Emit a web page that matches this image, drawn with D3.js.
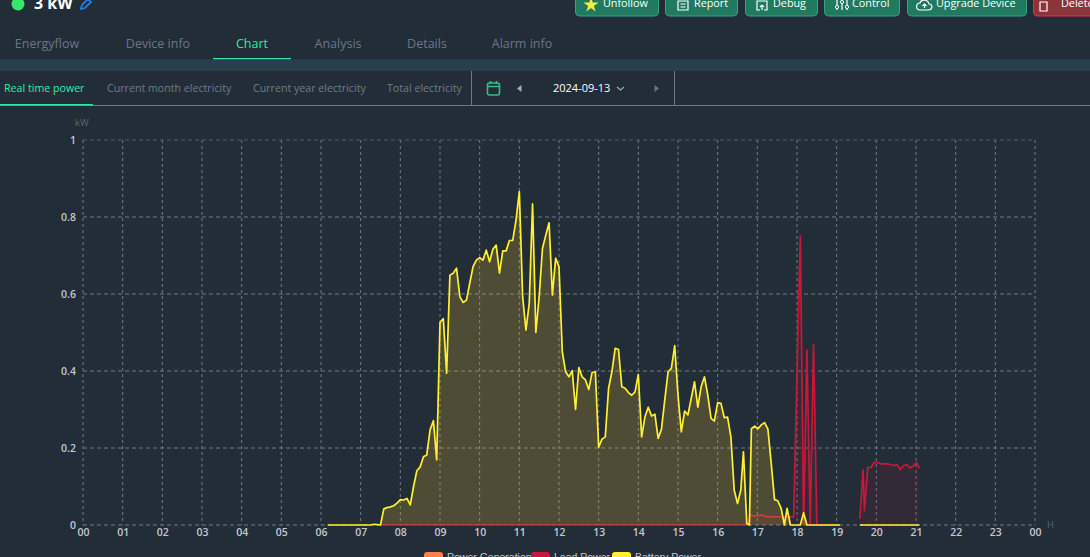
<!DOCTYPE html>
<html>
<head>
<meta charset="utf-8">
<script src="https://cdn.jsdelivr.net/npm/d3@7"></script>
<style>
  html, body { margin: 0; padding: 0; background: #232d38; overflow: hidden; }
  text { font-family: "Open Sans", "Noto Sans", sans-serif; }
</style>
</head>
<body>
<div id="chart-container"></div>
<script>
const hourLabels = ["00","01","02","03","04","05","06","07","08","09","10","11","12","13","14","15","16","17","18","19","20","21","22","23","00"];
const yTicks = [0, 0.2, 0.4, 0.6, 0.8, 1];
const legendLabels = ["Power Generation", "Load Power", "Battery Power"];
const pageTabs = ["Energyflow", "Device info", "Chart", "Analysis", "Details", "Alarm info"];
const chartTabs = ["Real time power", "Current month electricity", "Current year electricity", "Total electricity"];
const buttonLabels = ["Unfollow", "Report", "Debug", "Control", "Upgrade Device", "Delete"];

const batteryTimes = ["06:10","07:15","07:20","07:25","07:30","07:35","07:40","07:45","07:50","07:55",
  "08:00","08:05","08:10","08:15","08:20","08:25","08:30","08:35","08:40","08:45","08:50","08:55",
  "09:00","09:05","09:10","09:15","09:20","09:25","09:30","09:35","09:40","09:45","09:50","09:55",
  "10:00","10:05","10:10","10:15","10:20","10:25","10:30","10:35","10:40","10:45","10:50","10:55",
  "11:00","11:05","11:10","11:15","11:20","11:25","11:30","11:35","11:40","11:45","11:50","11:55",
  "12:00","12:05","12:10","12:15","12:20","12:25","12:30","12:35","12:40","12:45","12:50","12:55",
  "13:00","13:05","13:10","13:15","13:20","13:25","13:30","13:35","13:40","13:45","13:50","13:55",
  "14:00","14:05","14:10","14:15","14:20","14:25","14:30","14:35","14:40","14:45","14:50","14:55",
  "15:00","15:05","15:10","15:15","15:20","15:25","15:30","15:35","15:40","15:45","15:50","15:55",
  "16:00","16:05","16:10","16:15","16:20","16:25","16:30","16:35","16:39","16:44","16:48",
  "16:51","16:56","17:01","17:06","17:11","17:16","17:21","17:26","17:31","17:36","17:41","17:45","17:50",
  "18:05","18:10","18:15","19:05","19:20","19:35","21:05"];
const batteryPower = [0,0,0.002,0.001,0,0.042,0.045,0.047,0.05,0.057,
  0.066,0.065,0.069,0.052,0.1,0.141,0.151,0.177,0.182,0.247,0.271,0.169,
  0.526,0.536,0.394,0.649,0.654,0.667,0.593,0.578,0.584,0.628,0.671,0.688,
  0.694,0.688,0.714,0.684,0.716,0.727,0.654,0.712,0.712,0.739,0.739,0.792,
  0.866,0.593,0.506,0.576,0.834,0.5,0.593,0.718,0.753,0.785,0.597,0.693,
  0.671,0.45,0.398,0.385,0.401,0.3,0.409,0.385,0.377,0.352,0.396,0.398,
  0.202,0.223,0.229,0.355,0.398,0.459,0.456,0.359,0.355,0.344,0.337,0.346,
  0.391,0.229,0.281,0.306,0.283,0.288,0.225,0.249,0.325,0.398,0.407,0.466,
  0.338,0.242,0.296,0.286,0.329,0.372,0.306,0.359,0.385,0.338,0.277,0.27,
  0.318,0.316,0.279,0.28,0.229,0.091,0.056,0.091,0.19,0.004,0,
  0.25,0.257,0.25,0.26,0.266,0.249,0.16,0.066,0.063,0.043,0,0.043,0,
  0,0.032,0,0,null,0,0];

const loadTimes = ["07:30","16:45","16:49","16:56","17:06","17:16","17:26","17:55","18:00","18:05","18:10",
  "18:15","18:20","18:25","18:30","19:05","19:20","19:35","19:40","19:42","19:47","19:52","19:57","20:02","20:07",
  "20:12","20:17","20:22","20:27","20:31","20:36","20:41","20:46","20:51","20:56","21:01","21:05"];
const loadPower = [0,0,0.026,0.023,0.026,0.021,0.021,0.021,0.39,0.751,0,
  0.455,0,0.468,0,0,null,0.016,0.143,0.037,0.149,0.15,0.163,0.162,0.159,
  0.159,0.159,0.157,0.154,0.157,0.144,0.154,0.157,0.148,0.154,0.162,0.148];

const W = 1090, H = 557;
const margin = { top: 140, right: 55, bottom: 32, left: 83 };
const width = W - margin.left - margin.right;
const height = H - margin.top - margin.bottom;

const svg = d3.select("#chart-container").append("svg")
  .attr("width", W).attr("height", H).style("display", "block");

// ---- page chrome
svg.append("circle").attr("cx", 18).attr("cy", 4).attr("r", 6.5).attr("fill", "#37e86f");
svg.append("text").attr("x", 34).attr("y", 9).attr("fill", "#fff")
  .style("font-size", "16px").style("font-weight", "700").text("3 kW");
svg.append("path").attr("d", "M81 9 L82 5 L88 -1 L91 2 L85 8 Z")
  .attr("fill", "none").attr("stroke", "#1f7cf0").attr("stroke-width", 1.8);

const buttonX = [575, 665, 745, 824, 907, 1033];
const buttonW = [83, 72, 72, 75, 119, 70];
const buttonTextX = [603, 694, 773, 852, 936, 1061];
const button = svg.selectAll(".btn").data(buttonLabels).join("g").attr("class", "btn");
button.append("rect")
  .attr("x", (d, i) => buttonX[i] + .5).attr("y", -10)
  .attr("width", (d, i) => buttonW[i]).attr("height", 26).attr("rx", 4)
  .attr("fill", (d, i) => i == 5 ? "#8c343c" : "#1f7a5f")
  .attr("stroke", (d, i) => i == 5 ? "#e2303f" : "#3aa27e");
button.append("text")
  .attr("x", (d, i) => buttonTextX[i]).attr("y", 7)
  .attr("fill", "#fff").style("font-size", "10.8px").text(d => d);
// button icons
const icon = d => svg.append("path").attr("d", d).attr("fill", "none").attr("stroke", "#fff").attr("stroke-width", 1.2);
svg.append("path").attr("fill", "#f7ec3a")
  .attr("d", d3.symbol(d3.symbolStar, 70)()).attr("transform", "translate(591,5)");
icon("M678 1 H688 V10 H678 Z M680.5 4 H685.5 M680.5 7 H685.5");
icon("M757 2 V1 H767 V10 H764 M757 2 V10 H760 M762 10 V5 M760 7 L762 5 L764 7");
icon("M837 -1 V10 M842 -1 V10 M847 -1 V10");
svg.selectAll(".knob").data([[837, 7], [842, 2], [847, 7]]).join("circle").attr("class", "knob")
  .attr("cx", d => d[0]).attr("cy", d => d[1]).attr("r", 1.6).attr("fill", "#1f7a5f").attr("stroke", "#fff");
icon("M920 10 H928 C933 10 933 4 929 4 C928 -1 921 -1 920 3 C916 3 915 10 920 10 Z M924.5 8 V4 M922.5 6 L924.5 4 L926.5 6");
icon("M1040 2 H1047 V11 H1040 Z");

const tabX = [47, 158, 252, 338, 427, 522];
svg.selectAll(".tab").data(pageTabs).join("text").attr("class", "tab")
  .attr("x", (d, i) => tabX[i]).attr("y", 48).attr("text-anchor", "middle")
  .style("font-size", "12.5px")
  .attr("fill", (d, i) => i == 2 ? "#35e8a0" : "#687787").text(d => d);
svg.append("rect").attr("x", 213).attr("y", 58).attr("width", 78).attr("height", 1.5).attr("fill", "#35e8a0");
svg.append("rect").attr("x", 0).attr("y", 59.5).attr("width", W).attr("height", 11.5).attr("fill", "#2a3f4c");

const subX = [4, 107, 253, 387];
svg.selectAll(".sub").data(chartTabs).join("text").attr("class", "sub")
  .attr("x", (d, i) => subX[i]).attr("y", 92)
  .style("font-size", "10.65px")
  .attr("fill", (d, i) => i == 0 ? "#2ff0a4" : "#6e7c8a").text(d => d);
svg.append("rect").attr("x", 0).attr("y", 105).attr("width", W).attr("height", 1).attr("fill", "#6f7783");
svg.append("rect").attr("x", 0).attr("y", 104).attr("width", 93).attr("height", 1.5).attr("fill", "#2fe9a0");
svg.append("rect").attr("x", 471).attr("y", 71).attr("width", 1).attr("height", 34).attr("fill", "#6f7783");
svg.append("rect").attr("x", 674).attr("y", 71).attr("width", 1).attr("height", 34).attr("fill", "#6f7783");

svg.append("rect").attr("x", 487.5).attr("y", 83).attr("width", 12).attr("height", 12).attr("rx", 2)
  .attr("fill", "none").attr("stroke", "#2fbf8a").attr("stroke-width", 1.6);
svg.append("path").attr("d", "M487 86.5 H500 M490.5 81 V84 M496.5 81 V84").attr("stroke", "#2fbf8a").attr("stroke-width", 1.6);
svg.append("path").attr("d", "M521.5 85 L517 88.5 L521.5 92 Z").attr("fill", "#a8adb3");
svg.append("path").attr("d", "M654.5 85 L659 88.5 L654.5 92 Z").attr("fill", "#6a7280");
svg.append("text").attr("x", 553).attr("y", 92).attr("fill", "#fff").style("font-size", "11px").text("2024-09-13");
svg.append("path").attr("d", "M617 87 L620.5 90 L624 87").attr("fill", "none").attr("stroke", "#a8adb3").attr("stroke-width", 1.2);

// ---- chart
const g = svg.append("g").attr("transform", `translate(${margin.left},${margin.top})`);

const toHour = t => { const p = t.split(":"); return +p[0] + p[1] / 60; };
const x = d3.scaleLinear().domain([0, 24]).range([0, width]);
const y = d3.scaleLinear().domain([0, 1]).range([height, 0]);

const gridColor = "#727a83";
g.selectAll(".vgrid").data(hourLabels).join("line").attr("class", "vgrid")
  .attr("x1", (d, i) => x(i)).attr("x2", (d, i) => x(i))
  .attr("y1", 0).attr("y2", height)
  .attr("stroke", gridColor).attr("stroke-dasharray", "3,3");
g.selectAll(".hgrid").data(yTicks).join("line").attr("class", "hgrid")
  .attr("x1", 0).attr("x2", width)
  .attr("y1", d => y(d)).attr("y2", d => y(d))
  .attr("stroke", d => d == 1 ? "#525b65" : gridColor).attr("stroke-dasharray", "4,3");

const xAxis = g.append("g").attr("transform", `translate(0,${height})`)
  .call(d3.axisBottom(x).tickValues(d3.range(hourLabels.length))
    .tickFormat((d, i) => hourLabels[i]).tickSize(0).tickPadding(4));
xAxis.select(".domain").remove();
xAxis.selectAll("text").attr("fill", "#c3c8ce").style("font-size", "10.5px").style("font-weight", "600");

const yAxis = g.append("g")
  .call(d3.axisLeft(y).tickValues(yTicks).tickFormat(d => d).tickSize(0).tickPadding(7));
yAxis.select(".domain").remove();
yAxis.selectAll("text").attr("fill", "#c3c8ce").style("font-size", "10.5px").style("font-weight", "600");

svg.append("text").attr("x", 75).attr("y", 126).attr("fill", "#5b6672").style("font-size", "9.5px").text("kW");
svg.append("text").attr("x", 1047).attr("y", 528).attr("fill", "#5b6672").style("font-size", "9.5px").text("H");

function drawSeries(times, values, color, fillColor, fillOpacity) {
  const rows = times.map((t, i) => ({ h: toHour(t), v: values[i] }));
  const area = d3.area().defined(d => d.v !== null)
    .x(d => x(d.h)).y0(y(0)).y1(d => y(d.v));
  const line = d3.line().defined(d => d.v !== null)
    .x(d => x(d.h)).y(d => y(d.v));
  g.append("path").datum(rows).attr("d", area).attr("fill", fillColor).attr("fill-opacity", fillOpacity);
  g.append("path").datum(rows).attr("d", line).attr("fill", "none")
    .attr("stroke", color).attr("stroke-width", 1.7).attr("stroke-linejoin", "round");
}
drawSeries(loadTimes, loadPower, "#c9173c", "#c9173c", 0.1);
drawSeries(batteryTimes, batteryPower, "#fff12f", "#ffc832", 0.2);

// legend, cut by the bottom of the page like in the screenshot
const legendColors = ["#ff7f4d", "#c9173c", "#fff12f"];
const legendX = [424, 531, 612];
const legend = svg.selectAll(".legend").data(legendLabels).join("g").attr("class", "legend");
legend.append("rect").attr("x", (d, i) => legendX[i]).attr("y", 552)
  .attr("width", 19).attr("height", 12).attr("rx", 3).attr("fill", (d, i) => legendColors[i]);
legend.append("text").attr("x", (d, i) => legendX[i] + 23).attr("y", 561)
  .attr("fill", "#c3c8ce").style("font-family", "'Liberation Sans', sans-serif").style("font-size", "10.5px").text(d => d);
</script>
</body>
</html>
